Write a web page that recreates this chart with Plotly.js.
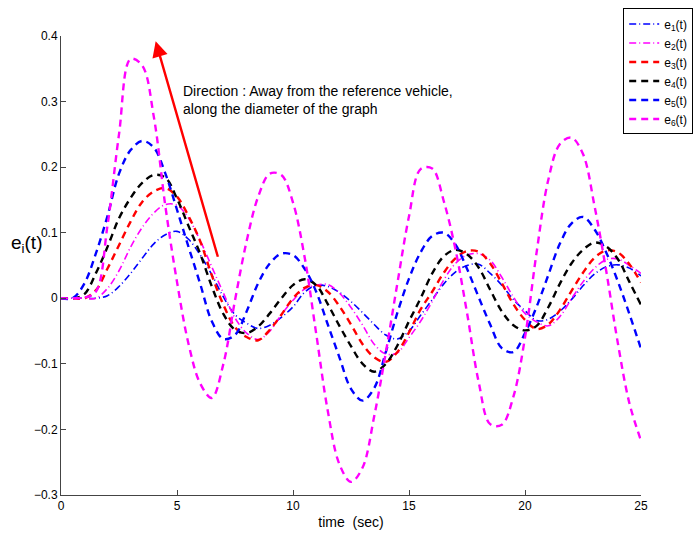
<!DOCTYPE html>
<html>
<head>
<meta charset="utf-8">
<script src="https://cdn.plot.ly/plotly-3.0.1.min.js"></script>
<style>html,body{margin:0;padding:0;background:#fff;}#chart{width:694px;height:535px;}</style>
</head>
<body>
<div id="chart"></div>
<script>
// time samples (sec)
const time = [0,0.5,1,1.5,2,2.5,3,3.5,4,4.5,5,5.5,6,6.5,7,7.5,8,8.5,9,9.5,10,10.5,11,11.5,12,12.5,13,13.5,14,14.5,15,15.5,16,16.5,17,17.5,18,18.5,19,19.5,20,20.5,21,21.5,22,22.5,23,23.5,24,24.5,25];

const e1 = [0,0,0,0,0.004,0.018,0.038,0.061,0.083,0.097,0.102,0.09,0.066,0.036,0.002,-0.025,-0.038,-0.046,-0.041,-0.029,-0.013,0.009,0.02,0.018,0.009,-0.005,-0.022,-0.04,-0.056,-0.062,-0.05,-0.026,-0.002,0.022,0.04,0.05,0.052,0.038,0.02,-0.002,-0.019,-0.034,-0.032,-0.02,-0.002,0.019,0.037,0.048,0.051,0.046,0.034];
const e2 = [0,0,0,0,0.015,0.042,0.078,0.108,0.13,0.143,0.142,0.122,0.088,0.048,0.008,-0.03,-0.053,-0.063,-0.05,-0.025,-0.003,0.014,0.02,0.021,0.008,-0.014,-0.041,-0.07,-0.085,-0.083,-0.06,-0.035,-0.005,0.028,0.053,0.066,0.068,0.058,0.032,0.002,-0.023,-0.036,-0.042,-0.028,-0.001,0.025,0.046,0.059,0.06,0.05,0.038];
const e3 = [0,0,0,0.012,0.045,0.081,0.117,0.147,0.163,0.168,0.155,0.125,0.087,0.035,-0.01,-0.044,-0.059,-0.064,-0.048,-0.025,0,0.016,0.02,0.01,-0.012,-0.04,-0.07,-0.09,-0.097,-0.082,-0.052,-0.017,0.01,0.039,0.061,0.072,0.071,0.053,0.023,-0.009,-0.033,-0.047,-0.04,-0.018,0.011,0.039,0.062,0.073,0.07,0.052,0.024];
const e4 = [0,0,0.006,0.038,0.078,0.122,0.153,0.176,0.188,0.184,0.152,0.11,0.068,0.018,-0.024,-0.048,-0.053,-0.043,-0.023,0,0.02,0.029,0.02,-0.009,-0.042,-0.073,-0.1,-0.112,-0.1,-0.072,-0.035,0,0.038,0.064,0.074,0.067,0.047,0.013,-0.02,-0.041,-0.049,-0.042,-0.014,0.022,0.053,0.074,0.085,0.079,0.06,0.025,-0.01];
const e5 = [0,0,0.022,0.068,0.125,0.19,0.226,0.24,0.23,0.19,0.135,0.078,0.022,-0.035,-0.062,-0.056,-0.02,0.023,0.053,0.068,0.066,0.045,0.01,-0.04,-0.09,-0.138,-0.156,-0.137,-0.082,-0.022,0.03,0.07,0.095,0.1,0.082,0.045,0.002,-0.04,-0.076,-0.082,-0.053,-0.013,0.035,0.083,0.114,0.124,0.105,0.07,0.026,-0.024,-0.077];
const e6 = [0,0,0.001,0.01,0.11,0.25,0.365,0.355,0.277,0.14,0.025,-0.07,-0.13,-0.152,-0.1,-0.003,0.087,0.155,0.19,0.188,0.146,0.063,-0.054,-0.172,-0.253,-0.28,-0.258,-0.18,-0.083,0.023,0.125,0.197,0.198,0.148,0.075,-0.022,-0.127,-0.192,-0.193,-0.15,-0.06,0.07,0.18,0.235,0.245,0.22,0.14,0.042,-0.068,-0.16,-0.217];

const seriesNames = ['e<sub>1</sub>(t)','e<sub>2</sub>(t)','e<sub>3</sub>(t)','e<sub>4</sub>(t)','e<sub>5</sub>(t)','e<sub>6</sub>(t)'];
const xTicks = [0,5,10,15,20,25];
const yTicks = [-0.3,-0.2,-0.1,0,0.1,0.2,0.3,0.4];
const yTickText = ['\u22120.3','\u22120.2','\u22120.1','0','0.1','0.2','0.3','0.4'];

// arrow annotation: tail and head (data coords)
const arrowTail = [6.78, 0.061];
const arrowHead = [4.08, 0.392];
const noteText = 'Direction : Away from the reference vehicle,<br>along the diameter of the graph';

const FONT = 'Liberation Sans, Arial, Helvetica, sans-serif';
const dashed = '7px,5px';
const dashdot = '7px,3px,1px,3px';

const values = [e1,e2,e3,e4,e5,e6];
const colors = ['#0000ff','#ff00ff','#ff0000','#000000','#0000ff','#ff00ff'];
const dashes = [dashdot,dashdot,dashed,dashed,dashed,dashed];
const widths = [1.6,1.6,2.4,2.4,2.4,2.4];

const traces = values.map((v,i)=>({
  x: time, y: v, type:'scatter', mode:'lines', name: seriesNames[i],
  line:{color:colors[i], dash:dashes[i], width:widths[i], shape:'spline', smoothing:1}
}));

const layout = {
  width:694, height:535,
  margin:{l:61, r:53, t:36, b:40, autoexpand:false},
  paper_bgcolor:'#fff', plot_bgcolor:'#fff',
  font:{family:FONT, size:12, color:'#000'},
  showlegend:true,
  legend:{x:1.09, xanchor:'right', y:1.06, yanchor:'top', bordercolor:'#000', borderwidth:1,
          bgcolor:'#fff', font:{size:12, family:FONT}, itemwidth:30, tracegroupgap:0},
  xaxis:{range:[0,25], tickvals:xTicks, ticktext:xTicks.map(String), ticks:'inside', ticklen:5,
         tickcolor:'#444', showline:true, linecolor:'#444', linewidth:1, showgrid:false, zeroline:false,
         tickfont:{size:12, family:FONT}, mirror:false,
         title:{text:'time  (sec)', font:{size:14, family:FONT}, standoff:4}},
  yaxis:{range:[-0.3,0.4], tickvals:yTicks, ticktext:yTickText, ticks:'inside', ticklen:5,
         tickcolor:'#444', showline:true, linecolor:'#444', linewidth:1, showgrid:false, zeroline:false,
         tickfont:{size:12, family:FONT}, mirror:false},
  annotations:[
    {x:arrowHead[0], y:arrowHead[1], ax:arrowTail[0], ay:arrowTail[1], xref:'x', yref:'y', axref:'x', ayref:'y',
     text:'', showarrow:true, arrowhead:2, arrowsize:1.3, arrowwidth:2.4, arrowcolor:'#ff0000'},
    {x:5.17, y:0.303, xref:'x', yref:'y', xanchor:'left', yanchor:'middle', align:'left', showarrow:false,
     text:noteText, font:{size:14, family:FONT, color:'#000'}},
    {x:-0.09, y:0.083, xref:'paper', yref:'y', xanchor:'left', yanchor:'middle', showarrow:false,
     text:'e<sub>i</sub>(t)', font:{size:19, family:FONT, color:'#000'}}
  ]
};

Plotly.newPlot('chart', traces, layout, {staticPlot:true, displayModeBar:false});
</script>
</body>
</html>
